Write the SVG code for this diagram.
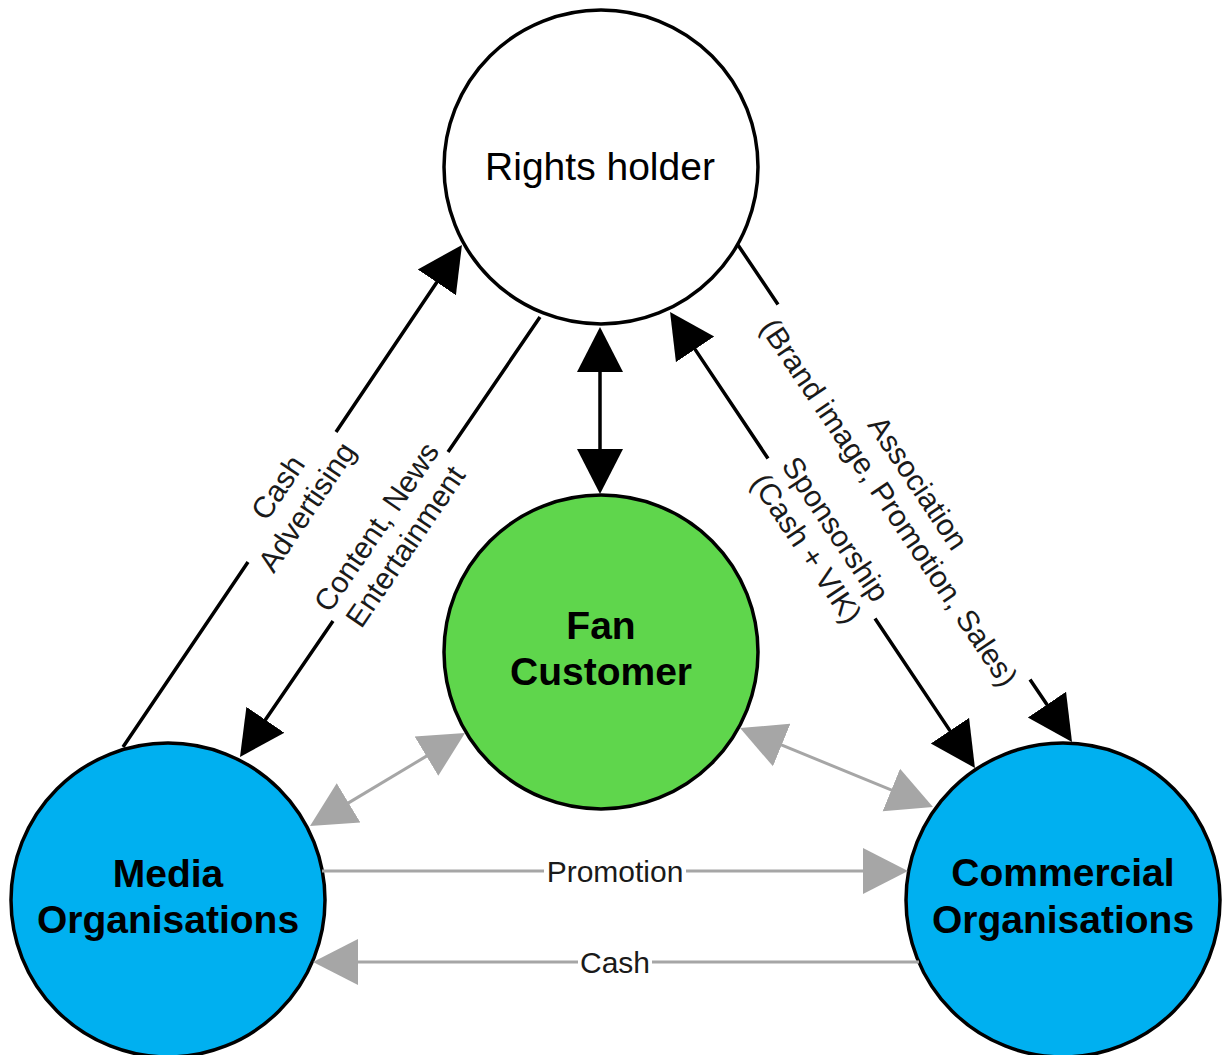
<svg xmlns="http://www.w3.org/2000/svg" width="1226" height="1055" viewBox="0 0 1226 1055">
  <style>
    .node { stroke: #000; stroke-width: 3.5; }
    .name { font-family: "Liberation Sans", Arial, sans-serif; font-size: 39px; fill: #000; text-anchor: middle; }
    .bold { font-weight: bold; }
    .lbl { font-family: "Liberation Sans", Arial, sans-serif; font-size: 30px; fill: #1a1a1a; text-anchor: middle; }
    .flow { fill: none; stroke: #000; stroke-width: 3.5; }
    .grey { fill: none; stroke: #a6a6a6; stroke-width: 3; }
  </style>
  <defs>
    <!-- arrowhead: base at x=0, tip 45px ahead; refX offsets so the tip lands 42px past the path end -->
    <marker id="headBlack" markerUnits="userSpaceOnUse" viewBox="0 -24 48 48" refX="3" refY="0" markerWidth="48" markerHeight="48" orient="auto-start-reverse">
      <path d="M0,-23 L45,0 L0,23 Z" fill="#000"/>
    </marker>
    <marker id="headGrey" markerUnits="userSpaceOnUse" viewBox="0 -24 48 48" refX="3" refY="0" markerWidth="48" markerHeight="48" orient="auto-start-reverse">
      <path d="M0,-23 L45,0 L0,23 Z" fill="#a6a6a6"/>
    </marker>
  </defs>

  <rect width="1226" height="1055" fill="#fff"/>

  <g id="rights-holder">
    <circle class="node" cx="601" cy="167" r="157" fill="#fff"/>
    <text class="name" x="600" y="180">Rights holder</text>
  </g>

  <g id="fan-customer">
    <circle class="node" cx="601" cy="652" r="157" fill="#5fd64c"/>
    <text class="name bold" x="601" y="639">Fan</text>
    <text class="name bold" x="601" y="685">Customer</text>
  </g>

  <g id="media-organisations">
    <circle class="node" cx="168" cy="900" r="157" fill="#00b0f0"/>
    <text class="name bold" x="168" y="887">Media</text>
    <text class="name bold" x="168" y="933">Organisations</text>
  </g>

  <g id="commercial-organisations">
    <circle class="node" cx="1063" cy="900" r="157" fill="#00b0f0"/>
    <text class="name bold" x="1063" y="886">Commercial</text>
    <text class="name bold" x="1063" y="933">Organisations</text>
  </g>

  <g id="connectors">
    <!-- Media -> Rights holder : Cash / Advertising -->
    <path class="flow" d="M123,747 L248,562 M336,432 L438.5,279.8" marker-end="url(#headBlack)"/>
    <g transform="translate(292 497) rotate(-55.97)">
      <text class="lbl" y="-6.8">Cash</text>
      <text class="lbl" y="28.2">Advertising</text>
    </g>

    <!-- Rights holder -> Media : Content, News / Entertainment -->
    <path class="flow" d="M540,317 L448,452 M333,621 L263.7,722.3" marker-end="url(#headBlack)"/>
    <g transform="translate(390.5 536.5) rotate(-55.71)">
      <text class="lbl" y="-6.8">Content, News</text>
      <text class="lbl" y="28.2">Entertainment</text>
    </g>

    <!-- Rights holder <-> Fan -->
    <path class="flow" d="M600,369 L600,452" marker-start="url(#headBlack)" marker-end="url(#headBlack)"/>

    <!-- Rights holder <-> Commercial : Sponsorship (Cash + VIK) -->
    <path class="flow" d="M693.4,346.9 L768,458.5 M875,618.5 L951.6,733.1" marker-start="url(#headBlack)" marker-end="url(#headBlack)"/>
    <g transform="translate(821.5 538.5) rotate(56.22)">
      <text class="lbl" y="-6.8">Sponsorship</text>
      <text class="lbl" y="28.2">(Cash + VIK)</text>
    </g>

    <!-- Rights holder -> Commercial : Association -->
    <path class="flow" d="M738,245 L778,304.5 M1030,679.4 L1048.6,707.1" marker-end="url(#headBlack)"/>
    <g transform="translate(904 492.5) rotate(56.1)">
      <text class="lbl" y="-6.8">Association</text>
      <text class="lbl" y="28.2">(Brand image, Promotion, Sales)</text>
    </g>

    <!-- Media <-> Fan -->
    <path class="grey" d="M346,804.4 L429,754.6" marker-start="url(#headGrey)" marker-end="url(#headGrey)"/>

    <!-- Fan <-> Commercial -->
    <path class="grey" d="M778.9,743.9 L894.1,791.1" marker-start="url(#headGrey)" marker-end="url(#headGrey)"/>

    <!-- Media -> Commercial : Promotion -->
    <path class="grey" d="M322,871 L544,871 M686,871 L866,871" marker-end="url(#headGrey)"/>
    <text class="lbl" x="615" y="882">Promotion</text>

    <!-- Commercial -> Media : Cash -->
    <path class="grey" d="M919,962 L652,962 M578,962 L355,962" marker-end="url(#headGrey)"/>
    <text class="lbl" x="615" y="973">Cash</text>
  </g>
</svg>
